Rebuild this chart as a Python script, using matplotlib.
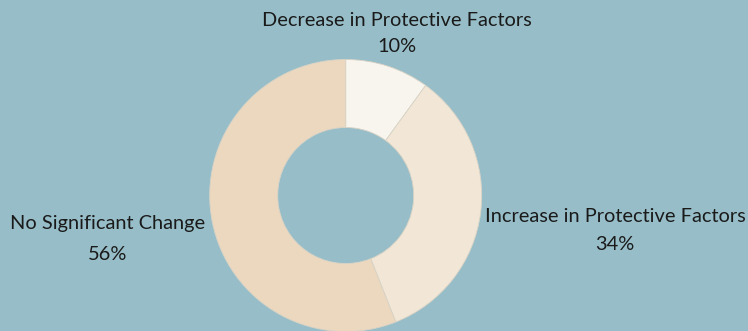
import matplotlib.pyplot as plt

# protective factor change breakdown
categories = ['Decrease in Protective Factors', 'Increase in Protective Factors', 'No Significant Change']
shares = [10, 34, 56]
slice_colors = ['#f7f5ee', '#f2e7d6', '#ebd8bf']

bg = '#97bec8'
W, H = 748, 331

plt.rcParams['font.family'] = ['Lato', 'DejaVu Sans']

fig = plt.figure(figsize=(W / 100, H / 100), dpi=100, facecolor=bg)
ax = fig.add_axes([0, 0, 1, 1])
ax.set_facecolor(bg)

# donut, starting at 12 o'clock and going clockwise
ax.pie(shares, colors=slice_colors, startangle=90, counterclock=False,
       center=(345.7, 135.5), radius=136,
       wedgeprops=dict(width=68, edgecolor='#d9d3c6', linewidth=0.6))

ax.set_xlim(0, W)
ax.set_ylim(0, H)
ax.set_aspect('equal')
ax.axis('off')

# label placement (x, y of name line, y of percent line)
label_pos = {
    'Decrease in Protective Factors': (397, 311, 285),
    'Increase in Protective Factors': (615, 115, 87),
    'No Significant Change': (108, 107, 77),
}
for name, val in zip(categories, shares):
    x, y1, y2 = label_pos[name]
    ax.text(x, y1, name, ha='center', va='center', fontsize=14.4, color='#1a1a1a')
    ax.text(x, y2, f'{val}%', ha='center', va='center', fontsize=14.4, color='#1a1a1a')

fig.savefig('out.png', dpi=100, facecolor=bg)
